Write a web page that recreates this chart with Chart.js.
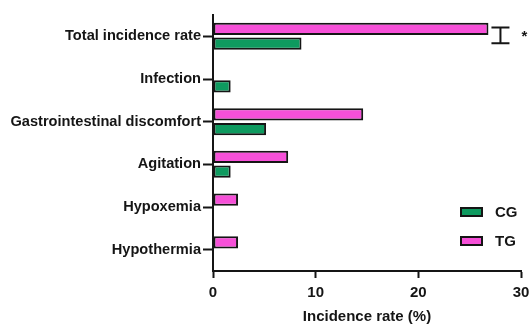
<!DOCTYPE html>
<html><head><meta charset="utf-8">
<script src="https://cdn.jsdelivr.net/npm/chart.js@4"></script>
<style>html,body{margin:0;padding:0;background:#fff}</style>
</head><body>
<canvas id="c" width="532" height="326"></canvas>
<script>
const categories = ['Total incidence rate','Infection','Gastrointestinal discomfort','Agitation','Hypoxemia','Hypothermia'];
const tgValues = [26.83, 0, 14.63, 7.32, 2.44, 2.44];
const cgValues = [8.62, 1.72, 5.17, 1.72, 0, 0];
const xTicks = [0, 10, 20, 30];
const seriesNames = ['CG', 'TG'];
const significanceMark = '*';
const axisTitle = 'Incidence rate (%)';

const INK = '#151515';
const PINK = '#f650d8';
const GREEN = '#0e9a5f';
const FAM = '"Liberation Sans", Arial, sans-serif';

const borderFn = ctx => (ctx.raw === 0 ? 0 : 2);

const overlay = {
  id: 'overlay',
  afterDatasetsDraw(chart) {
    const ctx = chart.ctx;
    const ca = chart.chartArea;
    const xs = chart.scales.x;
    // significance bracket
    const m0 = chart.getDatasetMeta(0).data[0];
    const m1 = chart.getDatasetMeta(1).data[0];
    const bx = xs.getPixelForValue(tgValues[0]) + 12;
    const yt = m0.y - 1.5, yb = m1.y - 0.5;
    ctx.save();
    ctx.strokeStyle = INK; ctx.lineWidth = 2;
    ctx.beginPath();
    ctx.moveTo(bx - 9, yt); ctx.lineTo(bx + 9, yt);
    ctx.moveTo(bx, yt); ctx.lineTo(bx, yb);
    ctx.moveTo(bx - 9, yb); ctx.lineTo(bx + 9, yb);
    ctx.stroke();
    ctx.fillStyle = INK;
    ctx.font = 'bold 15px ' + FAM;
    ctx.textAlign = 'center'; ctx.textBaseline = 'alphabetic';
    ctx.fillText(significanceMark, bx + 24, (yt + yb) / 2 + 6);
    // legend
    const items = [{name: seriesNames[0], color: GREEN}, {name: seriesNames[1], color: PINK}];
    items.forEach((it, i) => {
      const cy = ca.bottom - 59 + i * 29;
      const sx = ca.right - 60;
      ctx.fillStyle = it.color;
      ctx.fillRect(sx, cy - 4, 21, 8);
      ctx.strokeStyle = INK; ctx.lineWidth = 2;
      ctx.strokeRect(sx, cy - 4, 21, 8);
      ctx.fillStyle = INK;
      ctx.font = 'bold 15px ' + FAM;
      ctx.textAlign = 'left'; ctx.textBaseline = 'middle';
      ctx.fillText(it.name, sx + 34, cy + 1);
    });
    ctx.restore();
  }
};

new Chart(document.getElementById('c'), {
  type: 'bar',
  data: {
    labels: categories,
    datasets: [
      {label: seriesNames[1], data: tgValues, backgroundColor: PINK, borderColor: INK, borderWidth: borderFn, borderSkipped: false},
      {label: seriesNames[0], data: cgValues, backgroundColor: GREEN, borderColor: INK, borderWidth: borderFn, borderSkipped: false}
    ]
  },
  options: {
    indexAxis: 'y',
    responsive: false,
    animation: false,
    categoryPercentage: 0.69,
    barPercentage: 0.83,
    layout: {padding: {top: 15, right: 11, left: 0, bottom: 0}},
    plugins: {legend: {display: false}, tooltip: {enabled: false}},
    scales: {
      x: {
        min: 0, max: 30,
        afterBuildTicks: s => { s.ticks = xTicks.map(v => ({value: v})); },
        grid: {drawOnChartArea: false, drawTicks: true, tickLength: 7, tickWidth: 2, tickColor: INK},
        border: {display: true, color: INK, width: 2},
        ticks: {font: {family: FAM, size: 15, weight: 'bold'}, color: INK, padding: 6, maxRotation: 0},
        title: {display: true, text: axisTitle, font: {family: FAM, size: 15, weight: 'bold'}, color: INK, padding: {top: 8, bottom: 0}},
        afterFit: s => { s.height = 55; s.paddingLeft = 0; s.paddingRight = 0; }
      },
      y: {
        grid: {offset: false, drawOnChartArea: false, drawTicks: true, tickLength: 10, tickWidth: 2, tickColor: INK},
        border: {display: true, color: INK, width: 2},
        ticks: {font: {family: FAM, size: 14.6, weight: 'bold'}, color: INK, padding: 2, autoSkip: false},
        afterFit: s => { s.width = 213; }
      }
    }
  },
  plugins: [overlay]
});
</script>
</body></html>
